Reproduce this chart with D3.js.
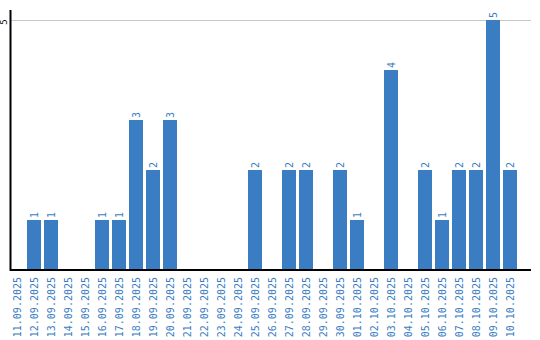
<!DOCTYPE html>
<html>
<head>
<meta charset="utf-8">
<script src="https://cdn.jsdelivr.net/npm/d3@7"></script>
<style>
  body { margin: 0; background: #fff; }
  text { font-family: "DejaVu Sans Mono", monospace; }
</style>
</head>
<body>
<div id="chart"></div>
<script>
// data
var dates = ["11.09.2025","12.09.2025","13.09.2025","14.09.2025","15.09.2025","16.09.2025",
  "17.09.2025","18.09.2025","19.09.2025","20.09.2025","21.09.2025","22.09.2025","23.09.2025",
  "24.09.2025","25.09.2025","26.09.2025","27.09.2025","28.09.2025","29.09.2025","30.09.2025",
  "01.10.2025","02.10.2025","03.10.2025","04.10.2025","05.10.2025","06.10.2025","07.10.2025",
  "08.10.2025","09.10.2025","10.10.2025"];
var counts = [0,1,1,0,0,1,1,3,2,3,0,0,0,0,2,0,2,2,0,2,1,0,4,0,2,1,2,2,5,2];
var yTicks = [5];

var blue = "#3a7dc2";
var width = 540, height = 340;

var svg = d3.select("#chart").append("svg")
    .attr("width", width)
    .attr("height", height);

var x = d3.scaleBand()
    .domain(dates)
    .range([10, 517])
    .paddingInner(3 / 17)
    .paddingOuter(0)
    .align(0);

var y = d3.scaleLinear()
    .domain([0, 5])
    .range([270, 20]);

// grid line
svg.selectAll(".grid")
    .data(yTicks)
  .enter().append("line")
    .attr("x1", 11).attr("x2", 531)
    .attr("y1", function(d) { return y(d) + 0.5; })
    .attr("y2", function(d) { return y(d) + 0.5; })
    .attr("stroke", "#c8c8c8")
    .attr("stroke-width", 1);

// y tick labels
svg.selectAll(".ytick")
    .data(yTicks)
  .enter().append("text")
    .attr("transform", function(d) { return "translate(7," + (y(d) + 2) + ") rotate(-90)"; })
    .attr("text-anchor", "middle")
    .attr("font-size", 9)
    .attr("fill", "#000")
    .text(function(d) { return d; });

// bars
var data = dates.map(function(d, i) { return {date: d, n: counts[i]}; });

svg.selectAll(".bar")
    .data(data.filter(function(d) { return d.n > 0; }))
  .enter().append("rect")
    .attr("x", function(d) { return x(d.date); })
    .attr("y", function(d) { return y(d.n); })
    .attr("width", x.bandwidth())
    .attr("height", function(d) { return y(0) - y(d.n); })
    .attr("fill", blue);

// value labels
svg.selectAll(".val")
    .data(data.filter(function(d) { return d.n > 0; }))
  .enter().append("text")
    .attr("transform", function(d) {
      return "translate(" + (x(d.date) + x.bandwidth() / 2 + 4) + "," + (y(d.n) - 2) + ") rotate(-90)";
    })
    .attr("font-size", 10)
    .attr("fill", blue)
    .text(function(d) { return d.n; });

// axes lines
svg.append("line")
    .attr("x1", 10.5).attr("x2", 10.5)
    .attr("y1", 10).attr("y2", 271)
    .attr("stroke", "#000").attr("stroke-width", 2);
svg.append("line")
    .attr("x1", 10).attr("x2", 531)
    .attr("y1", 270).attr("y2", 270)
    .attr("stroke", "#000").attr("stroke-width", 2);

// x labels
svg.selectAll(".xlab")
    .data(dates)
  .enter().append("text")
    .attr("transform", function(d) {
      return "translate(" + (x(d) + x.bandwidth() / 2 + 4) + ",277) rotate(-90)";
    })
    .attr("text-anchor", "end")
    .attr("font-size", 10)
    .attr("fill", blue)
    .text(function(d) { return d; });
</script>
</body>
</html>
